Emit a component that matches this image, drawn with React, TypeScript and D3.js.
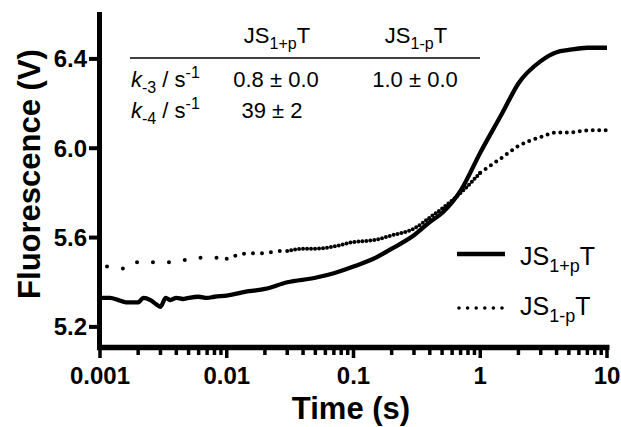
import React from "react"
import { scaleLog, scaleLinear, line, curveMonotoneX } from "d3"

// JS1+pT trace (solid)
const timesPlus = [
  0.001, 0.0012, 0.0014, 0.0016, 0.0018, 0.002, 0.0022, 0.0025, 0.0028, 0.003,
  0.0033, 0.0036, 0.004, 0.0045, 0.005, 0.006, 0.007, 0.008, 0.01, 0.015,
  0.02, 0.03, 0.05, 0.07, 0.1, 0.15, 0.2, 0.3, 0.4, 0.5,
  0.7, 1, 1.5, 2, 3, 4, 5, 7, 10
]
const valuesPlus = [
  5.33, 5.33, 5.32, 5.31, 5.31, 5.31, 5.33, 5.32, 5.30, 5.29,
  5.33, 5.32, 5.33, 5.325, 5.33, 5.335, 5.33, 5.335, 5.34, 5.36,
  5.37, 5.40, 5.42, 5.44, 5.47, 5.51, 5.55, 5.61, 5.67, 5.71,
  5.81, 5.98, 6.16, 6.29, 6.39, 6.43, 6.44, 6.45, 6.45
]

// JS1-pT trace (dotted)
const timesMinus = [
  0.001, 0.0012, 0.0016, 0.002, 0.0025, 0.003, 0.0036, 0.0045, 0.005, 0.006,
  0.008, 0.01, 0.012, 0.015, 0.02, 0.025, 0.03, 0.04, 0.05, 0.07,
  0.1, 0.15, 0.2, 0.3, 0.4, 0.5, 0.7, 1, 1.5, 2,
  3, 4, 5, 7, 10
]
const valuesMinus = [
  5.47, 5.47, 5.46, 5.49, 5.49, 5.49, 5.49, 5.50, 5.50, 5.51,
  5.51, 5.505, 5.52, 5.53, 5.53, 5.54, 5.54, 5.55, 5.55, 5.56,
  5.58, 5.59, 5.61, 5.64, 5.69, 5.73, 5.80, 5.89, 5.96, 6.01,
  6.05, 6.07, 6.07, 6.08, 6.08
]

const xMajor = [0.001, 0.01, 0.1, 1, 10]
const xMajorLabels = ["0.001", "0.01", "0.1", "1", "10"]
const yTicks = [5.2, 5.6, 6.0, 6.4]

const tableHead = [
  { main: "JS", sub: "1+p", tail: "T" },
  { main: "JS", sub: "1-p", tail: "T" }
]
const tableRows = [
  { k: "-3", vals: ["0.8 ± 0.0", "1.0 ± 0.0"] },
  { k: "-4", vals: ["39 ± 2", ""] }
]

const font = "'Liberation Sans', Arial, Helvetica, sans-serif"

export default function App() {
  const x = scaleLog().domain([0.001, 10]).range([100, 607])
  const y = scaleLinear().domain([5.11, 6.61]).range([347, 12])

  const plus = timesPlus.map((t, i) => [t, valuesPlus[i]])
  const minus = timesMinus.map((t, i) => [t, valuesMinus[i]])

  const path = line<number[]>()
    .x(d => x(d[0]))
    .y(d => y(d[1]))
    .curve(curveMonotoneX)

  // dot spacing differs along the trace (sampling density)
  const dotSegments = [
    { from: 0.001, to: 0.01, gap: 16 },
    { from: 0.01, to: 0.03, gap: 9 },
    { from: 0.03, to: 1, gap: 4 },
    { from: 1, to: 10, gap: 6.5 }
  ]

  const xMinor: number[] = []
  ;[0.001, 0.01, 0.1, 1].forEach(d => {
    for (let m = 2; m <= 9; m++) xMinor.push(d * m)
  })

  const colX = [277, 416]

  return (
    <svg
      width={621}
      height={427}
      style={{ position: "absolute", left: 0, top: 0, background: "#fff" }}
      fontFamily={font}
    >
      {/* traces */}
      <path d={path(plus) || ""} fill="none" stroke="#000" strokeWidth={4.3} strokeLinejoin="round" />
      {dotSegments.map((s, i) => (
        <path
          key={i}
          d={path(minus.filter(d => d[0] >= s.from && d[0] <= s.to)) || ""}
          fill="none"
          stroke="#000"
          strokeWidth={4}
          strokeLinecap="round"
          strokeDasharray={"0 " + s.gap}
          strokeDashoffset={i === 0 ? -7 : 0}
        />
      ))}

      {/* y axis */}
      <line x1={99.5} x2={99.5} y1={12} y2={350} stroke="#000" strokeWidth={5} />
      {yTicks.map(v => (
        <g key={v}>
          <line x1={89} x2={99} y1={y(v)} y2={y(v)} stroke="#000" strokeWidth={4} />
          <text x={87} y={y(v) + 8.5} textAnchor="end" fontWeight="bold" fontSize={24}>
            {v.toFixed(1)}
          </text>
        </g>
      ))}

      {/* x axis */}
      <line x1={97} x2={609.5} y1={347.5} y2={347.5} stroke="#000" strokeWidth={5.5} />
      {xMinor.map(v => (
        <line key={v} x1={x(v)} x2={x(v)} y1={348} y2={355} stroke="#000" strokeWidth={3.5} />
      ))}
      {xMajor.map((v, i) => (
        <g key={v}>
          <line x1={x(v)} x2={x(v)} y1={348} y2={358} stroke="#000" strokeWidth={3.5} />
          <text x={x(v)} y={384} textAnchor="middle" fontWeight="bold" fontSize={24}>
            {xMajorLabels[i]}
          </text>
        </g>
      ))}

      {/* axis titles */}
      <text x={351} y={419} textAnchor="middle" fontWeight="bold" fontSize={31}>
        Time (s)
      </text>
      <text
        transform="translate(40,174) rotate(-90)"
        textAnchor="middle"
        fontWeight="bold"
        fontSize={31}
      >
        Fluorescence (V)
      </text>

      {/* rate table */}
      {tableHead.map((h, i) => (
        <text key={i} x={colX[i]} y={43} textAnchor="middle" fontSize={22}>
          {h.main}
          <tspan fontSize={16} dy={6}>{h.sub}</tspan>
          <tspan dy={-6}>{h.tail}</tspan>
        </text>
      ))}
      <line x1={130} x2={480} y1={58} y2={58} stroke="#000" strokeWidth={1.5} />
      {tableRows.map((r, i) => (
        <g key={i}>
          <text x={131} y={87 + i * 31} fontSize={22}>
            <tspan fontStyle="italic">k</tspan>
            <tspan fontSize={16} dy={6}>{r.k}</tspan>
            <tspan dy={-6}> / s</tspan>
            <tspan fontSize={16} dy={-9}>-1</tspan>
          </text>
          {r.vals.map((v, j) => (
            <text key={j} x={colX[j] - 1 - (i === 1 ? 4 : 0)} y={87 + i * 31} textAnchor="middle" fontSize={22}>
              {v}
            </text>
          ))}
        </g>
      ))}

      {/* legend */}
      <line x1={457} x2={505} y1={254} y2={254} stroke="#000" strokeWidth={4.5} />
      <text x={520} y={265} fontSize={25}>
        JS<tspan fontSize={18} dy={7}>1+p</tspan><tspan dy={-7}>T</tspan>
      </text>
      <line
        x1={459}
        x2={503}
        y1={308}
        y2={308}
        stroke="#000"
        strokeWidth={3.6}
        strokeLinecap="round"
        strokeDasharray="0 8.6"
      />
      <text x={520} y={315} fontSize={25}>
        JS<tspan fontSize={18} dy={7}>1-p</tspan><tspan dy={-7}>T</tspan>
      </text>
    </svg>
  )
}
